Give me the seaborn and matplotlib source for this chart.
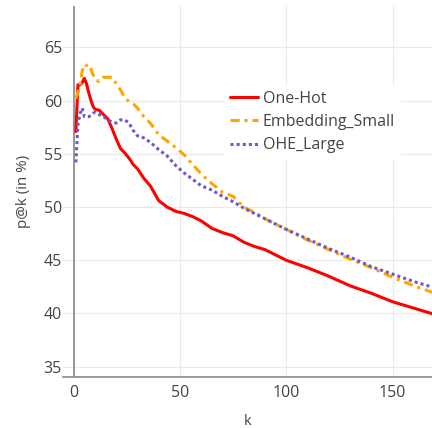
import numpy as np
import pandas as pd
import matplotlib
matplotlib.use("Agg")
import matplotlib.pyplot as plt
import seaborn as sns

k = [1, 2, 3, 4, 5, 6, 7, 8, 9, 10, 12, 14, 16, 18, 20, 22, 24, 26, 28, 30,
     33, 36, 40, 44, 48, 52, 56, 60, 65, 70, 75, 80, 85, 90, 95, 100,
     110, 120, 130, 140, 150, 160, 170]
one_hot = [57.1, 61.5, 61.5, 61.7, 62.1, 61.6, 60.8, 60.1, 59.5, 59.2,
           59.1, 58.7, 58.3, 57.4, 56.4, 55.5, 55.1, 54.6, 54.0, 53.6,
           52.7, 52.0, 50.6, 50.0, 49.6, 49.4, 49.1, 48.7,
           48.0, 47.6, 47.3, 46.7, 46.3, 46.0, 45.5, 45.0,
           44.3, 43.5, 42.6, 41.9, 41.1, 40.5, 39.9]
embedding_small = [60.2, 60.8, 61.5, 62.8, 63.4, 63.3, 63.4, 63.0, 62.5, 62.0,
                   61.8, 62.2, 62.2, 62.2, 61.6, 61.0, 60.3, 59.9, 59.7, 59.3,
                   58.5, 57.9, 56.8, 56.2, 55.6, 54.9, 54.0, 53.1,
                   52.2, 51.4, 51.0, 50.0, 49.5, 48.9, 48.4, 47.9,
                   46.9, 46.0, 45.1, 44.3, 43.4, 42.6, 41.9]
ohe_large = [54.2, 57.8, 58.8, 59.3, 58.5, 58.5, 58.5, 58.6, 58.8, 58.9,
             58.7, 58.5, 58.2, 58.0, 57.9, 58.2, 58.2, 57.9, 57.2, 56.7,
             56.5, 56.1, 55.4, 54.8, 53.9, 53.2, 52.6, 52.0,
             51.6, 51.0, 50.5, 49.9, 49.4, 48.9, 48.4, 47.9,
             47.0, 46.1, 45.3, 44.4, 43.7, 43.0, 42.4]
series_names = ["One-Hot", "Embedding_Small", "OHE_Large"]
x_ticks = [0, 50, 100, 150]
y_ticks = [35, 40, 45, 50, 55, 60, 65]

df = pd.concat([
    pd.DataFrame({"k": k, "v": one_hot, "model": series_names[0]}),
    pd.DataFrame({"k": k, "v": embedding_small, "model": series_names[1]}),
    pd.DataFrame({"k": k, "v": ohe_large, "model": series_names[2]}),
])

sns.set_theme(style="white")
plt.rcParams["font.family"] = ["Open Sans", "DejaVu Sans"]
txt = "#444444"
fs = 11.5

fig = plt.figure(figsize=(4.32, 4.28), dpi=100)
ax = fig.add_axes([63.3 / 432, 1 - 376.7 / 428, 1 - 63.3 / 432, (376.7 - 6) / 428])

palette = {"One-Hot": "#ff0000", "Embedding_Small": "#ffa500", "OHE_Large": "#6a5acd"}
dashes = {"One-Hot": "", "Embedding_Small": (3, 1.6, 1, 1.6), "OHE_Large": (1, 1)}
sns.lineplot(data=df, x="k", y="v", hue="model", style="model", palette=palette,
             dashes=dashes, linewidth=2.2, ax=ax, legend=True)

ax.set_xlim(-4.9, 168.5)
ax.set_ylim(34.06, 68.9)
ax.set_xticks(x_ticks)
ax.set_yticks(y_ticks)
ax.grid(True, color="#ebebeb", linewidth=0.8)
ax.set_axisbelow(True)
for s in ["top", "right", "left"]:
    ax.spines[s].set_visible(False)
ax.spines["bottom"].set_color("#888888")
ax.spines["bottom"].set_linewidth(1.2)
ax.axvline(0, color="#888888", linewidth=1.2, zorder=1.5)
ax.tick_params(axis="x", direction="in", length=4, color="#888888", labelsize=fs,
               labelcolor=txt, pad=6)
ax.tick_params(axis="y", length=0, labelsize=fs, labelcolor=txt, pad=1)
ax.set_xlabel("k", fontsize=fs * 0.9, color=txt, labelpad=9)
ax.set_ylabel("p@k (in %)", fontsize=fs * 0.95, color=txt, labelpad=9)

handles, labels = ax.get_legend_handles_labels()
ax.legend(handles, labels, loc="upper left", bbox_to_anchor=(217 / 432, 1 - 78 / 428),
          bbox_transform=fig.transFigure, frameon=True, facecolor="white",
          edgecolor="white", framealpha=1, fancybox=False, fontsize=fs,
          labelcolor=txt, handlelength=1.75, handletextpad=0.3, labelspacing=0.45,
          borderpad=0.3)

fig.savefig("out.png", dpi=100)
